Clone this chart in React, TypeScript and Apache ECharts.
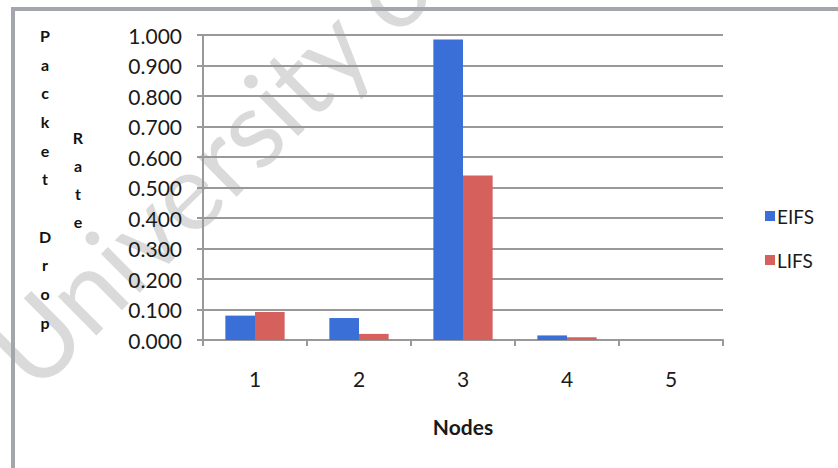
import React, { useEffect, useRef } from "react";
import * as echarts from "echarts";

const nodes = ["1", "2", "3", "4", "5"];
const eifs = [0.08, 0.072, 0.985, 0.015, 0.0];
const lifs = [0.092, 0.02, 0.539, 0.009, 0.0];
const seriesNames = ["EIFS", "LIFS"];
const yTitleLeft = "Packet Drop";
const yTitleRight = "Rate";
const xTitle = "Nodes";
const watermark = "University of";

const FONT = "Lato, 'Open Sans', sans-serif";

export default function App() {
  const ref = useRef<HTMLDivElement>(null);
  useEffect(() => {
    if (!ref.current) return;
    const chart = echarts.init(ref.current, null, { renderer: "svg" });
    const vertical = (s: string) => s.split("").map((c) => (c === " " ? "" : c)).join("\n");
    chart.setOption({
      animation: false,
      backgroundColor: "#ffffff",
      textStyle: { fontFamily: FONT },
      grid: { left: 203, right: 115, top: 35, bottom: 128, containLabel: false },
      legend: {
        orient: "vertical",
        left: 760,
        top: 201,
        itemWidth: 10,
        itemHeight: 10,
        itemGap: 24,
        icon: "rect",
        textStyle: { fontSize: 19, color: "#1a1a1a", fontFamily: FONT, lineHeight: 20, padding: [0, 0, 0, -3] },
        data: seriesNames,
      },
      xAxis: {
        type: "category",
        data: nodes,
        boundaryGap: true,
        axisLine: { show: true, lineStyle: { color: "#999999", width: 2 } },
        axisTick: { show: true, length: 6, alignWithLabel: false, lineStyle: { color: "#999999", width: 2 } },
        axisLabel: { fontSize: 21, color: "#1a1a1a", margin: 28, fontFamily: FONT },
        name: xTitle,
        nameLocation: "middle",
        nameGap: 76,
        nameTextStyle: { fontSize: 21, fontWeight: "bold", color: "#1a1a1a", fontFamily: FONT },
      },
      yAxis: {
        type: "value",
        min: 0,
        max: 1,
        interval: 0.1,
        axisLine: { show: true, lineStyle: { color: "#999999", width: 2 } },
        axisTick: { show: true, length: 6, lineStyle: { color: "#999999", width: 2 } },
        axisLabel: {
          fontSize: 21,
          color: "#1a1a1a",
          margin: 21,
          fontFamily: FONT,
          formatter: (v: number) => v.toFixed(3),
        },
        splitLine: { show: true, lineStyle: { color: "#999999", width: 2 } },
      },
      series: [
        {
          name: seriesNames[0],
          type: "bar",
          data: eifs,
          barGap: "0%",
          barCategoryGap: "43%",
          itemStyle: { color: "#3a6fd8" },
        },
        {
          name: seriesNames[1],
          type: "bar",
          data: lifs,
          itemStyle: { color: "#d6605c" },
        },
      ],
      graphic: [
        {
          type: "text",
          x: 44,
          y: 404,
          rotation: 0.78,
          style: {
            text: watermark,
            font: `108px ${FONT}`,
            fill: "#dadada",
            align: "left",
            verticalAlign: "bottom",
          },
          z: -10,
          silent: true,
        },
        {
          type: "rect",
          shape: { x: 13, y: 9, width: 1000, height: 700 },
          style: { fill: "none", stroke: "#a3a7ad", lineWidth: 4 },
          z: 50,
          silent: true,
        },
        {
          type: "text",
          x: 45,
          y: 21,
          style: {
            text: vertical(yTitleLeft),
            font: `bold 16px ${FONT}`,
            fill: "#111111",
            align: "center",
            verticalAlign: "top",
            lineHeight: 28.7,
          },
          z: 60,
        },
        {
          type: "text",
          x: 78,
          y: 123,
          style: {
            text: vertical(yTitleRight),
            font: `bold 16px ${FONT}`,
            fill: "#111111",
            align: "center",
            verticalAlign: "top",
            lineHeight: 28,
          },
          z: 60,
        },
      ],
    });
    return () => chart.dispose();
  }, []);
  return (
    <div
      ref={ref}
      style={{ position: "fixed", left: 0, top: 0, width: 838, height: 468, background: "#fff" }}
    />
  );
}
